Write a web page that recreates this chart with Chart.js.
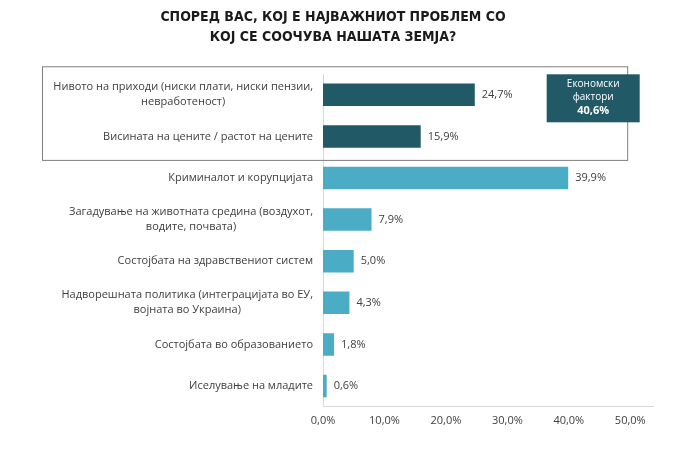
<!DOCTYPE html>
<html>
<head>
<meta charset="utf-8">
<script src="https://cdn.jsdelivr.net/npm/chart.js@4/dist/chart.umd.min.js"></script>
<style>
  html, body { margin: 0; padding: 0; background: #fff; }
  #wrap { width: 700px; height: 450px; }
</style>
</head>
<body>
<div id="wrap"><canvas id="barChart"></canvas></div>
<script>
// Податоци
const categories = [
  ['Нивото на приходи (ниски плати, ниски пензии,', 'невработеност)'],
  ['Висината на цените / растот на цените'],
  ['Криминалот и корупцијата'],
  ['Загадување на животната средина (воздухот,', 'водите, почвата)'],
  ['Состојбата на здравствениот систем'],
  ['Надворешната политика (интеграцијата во ЕУ,', 'војната во Украина)'],
  ['Состојбата во образованието'],
  ['Иселување на младите']
];
const values = [24.7, 15.9, 39.9, 7.9, 5.0, 4.3, 1.8, 0.6];
const economicRows = [0, 1];
const economicTotal = ['Економски', 'фактори', '40,6%'];
const xTicks = [0, 10, 20, 30, 40, 50];
const titleLines = ['СПОРЕД ВАС, КОЈ Е НАЈВАЖНИОТ ПРОБЛЕМ СО', 'КОЈ СЕ СООЧУВА НАШАТА ЗЕМЈА?'];

const DARK = '#215967';
const LIGHT = '#4bacc6';
const TEXT = '#404040';
const LABEL_FONT = '11px "Open Sans", sans-serif';

const fmt = v => v.toFixed(1).replace('.', ',') + '%';

// Наслов (центриран на целата слика)
const chartTitle = {
  id: 'chartTitle',
  afterDraw(chart) {
    const ctx = chart.ctx;
    ctx.save();
    ctx.font = 'bold 14px "Liberation Sans Narrow", "DejaVu Sans Condensed", sans-serif';
    ctx.fillStyle = '#1a1a1a';
    ctx.textAlign = 'center';
    ctx.textBaseline = 'middle';
    titleLines.forEach((t, i) => ctx.fillText(t, 333, 17 + i * 20));
    ctx.restore();
  }
};

// Етикети на категориите (втората линија центрирана под првата)
const categoryLabels = {
  id: 'categoryLabels',
  afterDraw(chart) {
    const ctx = chart.ctx;
    const y = chart.scales.y;
    const right = chart.chartArea.left - 10;
    ctx.save();
    ctx.font = LABEL_FONT;
    ctx.fillStyle = TEXT;
    ctx.textAlign = 'center';
    ctx.textBaseline = 'middle';
    categories.forEach((lines, i) => {
      const w = Math.max(...lines.map(l => ctx.measureText(l).width));
      const cy = y.getPixelForValue(i);
      const lh = 15;
      lines.forEach((l, j) => {
        ctx.fillText(l, right - w / 2, cy + (j - (lines.length - 1) / 2) * lh);
      });
    });
    ctx.restore();
  }
};

// Вредности на крајот од столбовите
const valueLabels = {
  id: 'valueLabels',
  afterDatasetsDraw(chart) {
    const ctx = chart.ctx;
    const meta = chart.getDatasetMeta(0);
    ctx.save();
    ctx.font = LABEL_FONT;
    ctx.fillStyle = TEXT;
    ctx.textAlign = 'left';
    ctx.textBaseline = 'middle';
    meta.data.forEach((bar, i) => {
      ctx.fillText(fmt(values[i]), bar.x + 7, bar.y);
    });
    ctx.restore();
  }
};

// Рамка околу економските фактори + ознака
const economicBox = {
  id: 'economicBox',
  afterDraw(chart) {
    const ctx = chart.ctx;
    const y = chart.scales.y;
    const x = chart.scales.x;
    const top = y.getPixelForValue(economicRows[0]) - 28.5;
    const bottom = y.getPixelForValue(economicRows[economicRows.length - 1]) + 23.5;
    const left = 42;
    const right = x.getPixelForValue(49.5);
    ctx.save();
    ctx.strokeStyle = '#7f7f7f';
    ctx.lineWidth = 1;
    ctx.strokeRect(left + 0.5, top + 0.5, right - left, bottom - top);

    // ознака
    const bx = x.getPixelForValue(36.4);
    const bw = 93;
    const by = top + 8;
    const bh = 48;
    ctx.fillStyle = DARK;
    ctx.fillRect(bx, by, bw, bh);
    ctx.fillStyle = '#ffffff';
    ctx.textAlign = 'center';
    ctx.textBaseline = 'middle';
    ctx.font = '10px "Open Sans", sans-serif';
    ctx.fillText(economicTotal[0], bx + bw / 2, by + 10);
    ctx.fillText(economicTotal[1], bx + bw / 2, by + 23);
    ctx.font = 'bold 11px "Open Sans", sans-serif';
    ctx.fillText(economicTotal[2], bx + bw / 2, by + 37);
    ctx.restore();
  }
};

const ctxBar = document.getElementById('barChart').getContext('2d');
new Chart(ctxBar, {
  type: 'bar',
  data: {
    labels: categories.map(c => c.join(' ')),
    datasets: [{
      data: values,
      backgroundColor: values.map((v, i) => economicRows.includes(i) ? DARK : LIGHT),
      borderWidth: 0,
      barPercentage: 0.54,
      categoryPercentage: 1
    }]
  },
  options: {
    indexAxis: 'y',
    responsive: true,
    maintainAspectRatio: false,
    animation: false,
    layout: {
      padding: { left: 323, right: 47, top: 74, bottom: 16 }
    },
    scales: {
      x: {
        min: 0,
        max: 53.7,
        afterBuildTicks: axis => { axis.ticks = xTicks.map(v => ({ value: v })); },
        grid: { display: false, drawTicks: false },
        border: { display: true, color: '#d9d9d9', width: 1 },
        ticks: {
          padding: 7,
          color: TEXT,
          font: { family: '"Open Sans", sans-serif', size: 11 },
          callback: v => fmt(v)
        }
      },
      y: {
        grid: { display: false, drawTicks: false },
        border: { display: true, color: '#d9d9d9', width: 1 },
        ticks: { display: false }
      }
    },
    plugins: {
      legend: { display: false },
      tooltip: { enabled: false },
      title: { display: false }
    }
  },
  plugins: [chartTitle, categoryLabels, valueLabels, economicBox]
});
</script>
</body>
</html>
